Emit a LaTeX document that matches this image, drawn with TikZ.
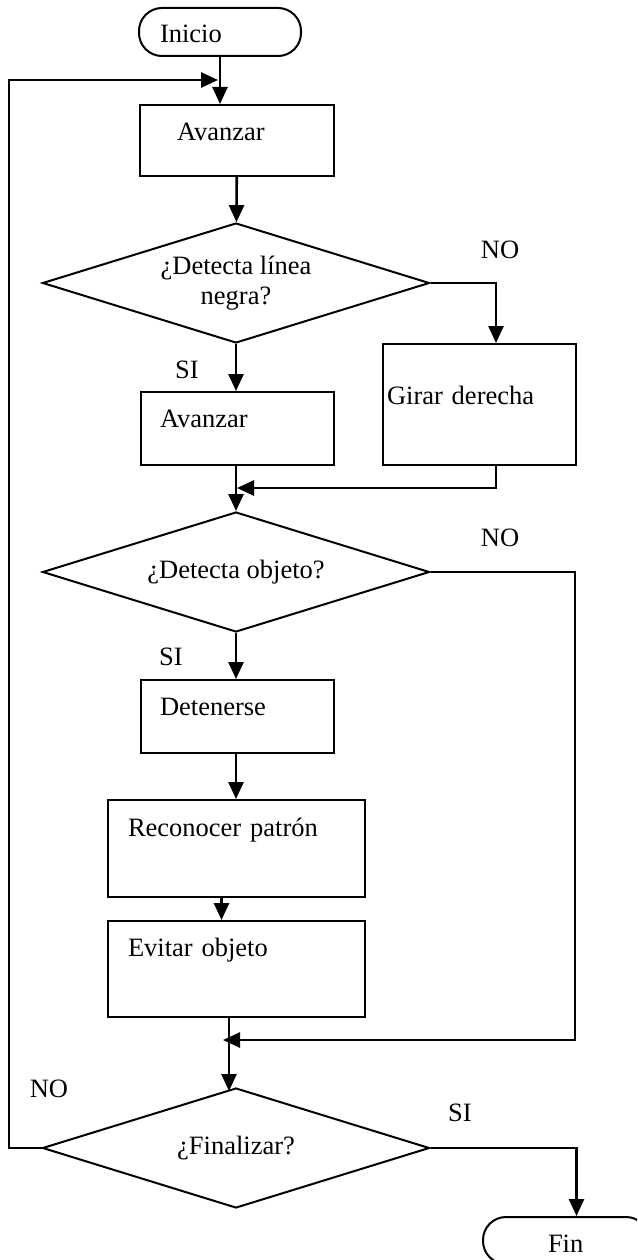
\documentclass[tikz,border=0pt]{standalone}
\usepackage{fontspec}
\setmainfont{Liberation Serif}
\usepackage{tikz}
\usetikzlibrary{shapes.geometric, arrows.meta, positioning}

\begin{document}
\begin{tikzpicture}[
        x=1pt, y=-1pt,
        font=\fontsize{26.5pt}{30pt}\selectfont,
        box/.style={draw, line width=2pt, anchor=north west, align=left, inner ysep=0pt},
        term/.style={box, rounded corners=23pt},
        decision/.style={draw, line width=2pt, diamond, shape aspect=3.2, align=center, inner sep=0pt,
            minimum width=387pt, minimum height=120pt},
        arrow/.style={-{Triangle[length=17pt, width=15pt]}, line width=2.6pt},
        tag/.style={inner sep=0pt}
    ]
        \useasboundingbox (0,0) rectangle (637,1260);
        \clip (0,0) rectangle (637,1260);

        % Inicio
        \node[term, inner xsep=21pt, text width=120pt, text height=35pt, text depth=13pt] (inicio) at (138,7) {Inicio};

        % Avanzar
        \node[box, inner xsep=37pt, text width=120pt, text height=36pt, text depth=35pt] (avanzar1) at (139,104) {Avanzar};

        % Linea negra
        \node[decision] (linea) at (236,283) {¿Detecta línea\\negra?};
        \node[box, inner xsep=19pt, text width=155pt, text height=35pt, text depth=38pt] (avanzar2) at (140,391) {Avanzar};
        \node[box, inner xsep=4pt, text width=185pt, text height=60pt, text depth=61pt] (girar) at (382,343) {Girar derecha};

        % Objeto
        \node[decision] (objeto) at (236,572) {¿Detecta objeto?};
        \node[box, inner xsep=19pt, text width=155pt, text height=35pt, text depth=38pt] (detenerse) at (140,679) {Detenerse};
        \node[box, inner xsep=20pt, text width=217pt, text height=36pt, text depth=61pt] (reconocer) at (107,799) {Reconocer patrón};
        \node[box, inner xsep=20pt, text width=217pt, text height=35pt, text depth=61pt] (evitar) at (107,920) {Evitar objeto};

        % Finalizar
        \node[decision] (finalizar) at (236,1148) {¿Finalizar?};
        \node[term, inner xsep=65pt, text width=36pt, text height=35pt, text depth=12pt] (fin) at (482,1216) {Fin};

        % Puntos de union
        \coordinate (izq) at (9,80);
        \coordinate (retorno) at (218,80);
        \coordinate (union1) at (237,488);
        \coordinate (der) at (575,1040);
        \coordinate (union2) at (223,1040);

        % Flechas
        \draw[arrow] (inicio) -- (inicio |- avanzar1.north);
        \draw[arrow] (avanzar1) -- (linea);
        \draw[arrow] (linea.east) -| ([xshift=16.5pt]girar.north);
        \draw[arrow] (linea.south) -- (avanzar2.north -| linea.south);
        \draw[arrow] (avanzar2.south -| linea.south) -- (objeto.north);
        \draw[arrow] ([xshift=16.5pt]girar.south) |- (union1);
        \draw[arrow] (objeto.south) -- (detenerse.north -| objeto.south);
        \draw[arrow] (objeto.east) -| (der) -- (union2);
        \draw[arrow] (detenerse.south -| objeto.south) -- (reconocer.north -| objeto.south);
        \draw[arrow] ([xshift=-15pt]reconocer.south) -- ([xshift=-15pt]evitar.north);
        \draw[arrow] ([xshift=-7.5pt]evitar.south) -- ([xshift=-7.5pt, yshift=-4pt]evitar.south |- finalizar.north);
        \draw[arrow] (finalizar.east) -| ([xshift=10.5pt]fin.north);
        \draw[arrow] (finalizar.west) -| (izq) -- (retorno);

        % Etiquetas
        \node[tag] (no1) at (500,250) {NO};
        \node[tag] (si1) at (187,370) {SI};
        \node[tag] (no2) at (500,538) {NO};
        \node[tag] (si2) at (171,657) {SI};
        \node[tag] (no3) at (49,1089) {NO};
        \node[tag] (si3) at (460,1113) {SI};
    \end{tikzpicture}
\end{document}
